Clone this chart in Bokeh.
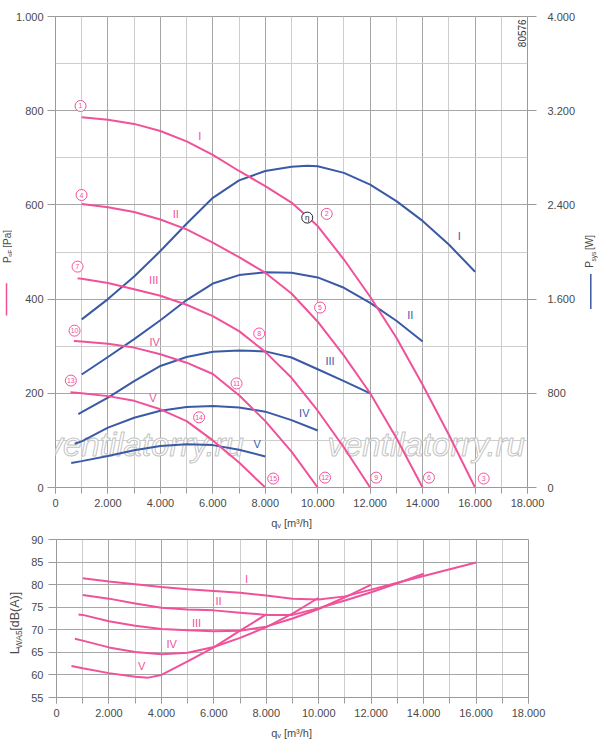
from math import pi

from bokeh.core.properties import value
from bokeh.embed import file_html
from bokeh.layouts import column, row
from bokeh.models import (CustomJSTickFormatter, FixedTicker, Label, LinearAxis,
                          Range1d, SingleIntervalTicker)
from bokeh.plotting import figure
from bokeh.resources import INLINE

PINK = "#f0529a"
BLUE = "#3a5aa6"
FONT = "Liberation Sans"
TXT = "#4a4a4a"

# ---- pressure curves P_sF [Pa] (pink)
q_p1 = [1000, 2000, 3000, 4000, 5000, 6000, 7000, 8000, 9000, 10000, 11000, 12000, 13000, 14000, 15000, 16000]
p_p1 = [786, 781, 772, 757, 735, 706, 672, 640, 605, 555, 484, 405, 318, 218, 112, 0]
q_p2 = [1000, 2000, 3000, 4000, 5000, 6000, 7000, 8000, 9000, 10000, 11000, 12000, 13000, 14000]
p_p2 = [602, 595, 585, 569, 548, 520, 489, 456, 412, 352, 280, 200, 105, 0]
q_p3 = [840, 1000, 2000, 3000, 4000, 5000, 6000, 7000, 8000, 9000, 10000, 11000, 12000]
p_p3 = [444, 443, 434, 421, 407, 388, 364, 332, 288, 233, 163, 85, 0]
q_p4 = [700, 1000, 2000, 3000, 4000, 5000, 6000, 7000, 8000, 9000, 10000]
p_p4 = [311, 310, 305, 297, 283, 265, 241, 196, 141, 76, 0]
q_p5 = [570, 1000, 2000, 3000, 4000, 5000, 6000, 7000, 8000]
p_p5 = [202, 200, 194, 184, 166, 141, 100, 53, 0]

# ---- power curves P_sys [W] (blue)
q_w1 = [1000, 2000, 3000, 4000, 5000, 6000, 7000, 8000, 9000, 9600, 10000, 11000, 12000, 13000, 14000, 15000, 16000]
w_w1 = [1428, 1600, 1792, 2008, 2240, 2460, 2608, 2688, 2724, 2732, 2728, 2672, 2572, 2432, 2264, 2064, 1832]
q_w2 = [1000, 2000, 3000, 4000, 5000, 6000, 7000, 8000, 9000, 10000, 11000, 12000, 13000, 14000]
w_w2 = [960, 1108, 1260, 1420, 1592, 1732, 1804, 1828, 1824, 1784, 1696, 1568, 1416, 1240]
q_w3 = [870, 1000, 2000, 3000, 4000, 5000, 6000, 7000, 8000, 9000, 10000, 11000, 12000]
w_w3 = [624, 640, 764, 904, 1032, 1108, 1152, 1164, 1156, 1104, 1004, 904, 800]
q_w4 = [730, 1000, 2000, 3000, 4000, 5000, 6000, 7000, 8000, 9000, 10000]
w_w4 = [372, 392, 508, 592, 652, 684, 692, 680, 644, 572, 484]
q_w5 = [600, 1000, 2000, 3000, 4000, 5000, 6000, 7000, 8000]
w_w5 = [208, 224, 268, 316, 352, 368, 360, 320, 264]

# ---- sound power L_WA5 [dB(A)] (pink)
q_l1 = [1000, 2000, 3000, 4000, 5000, 6000, 7000, 8000, 9000, 10000, 11000, 12000, 13000, 14000, 15000, 16000]
l_l1 = [81.4, 80.7, 80.1, 79.5, 79.0, 78.6, 78.2, 77.6, 76.9, 76.7, 77.4, 78.9, 80.4, 81.9, 83.4, 84.9]
q_l2 = [1000, 2000, 3000, 4000, 5000, 6000, 7000, 8000, 9000, 10000, 11000, 12000, 13000, 14000]
l_l2 = [77.7, 76.9, 75.8, 74.9, 74.5, 74.3, 73.8, 73.3, 73.3, 74.8, 76.5, 78.3, 80.3, 82.4]
q_l3 = [840, 1000, 2000, 3000, 4000, 5000, 6000, 7000, 8000, 9000, 10000, 11000, 12000]
l_l3 = [73.4, 73.3, 71.9, 70.9, 70.2, 69.9, 69.7, 69.8, 70.7, 72.5, 74.6, 77.2, 80.0]
q_l4 = [700, 1000, 2000, 3000, 4000, 5000, 6000, 7000, 8000, 9000, 10000]
l_l4 = [68.0, 67.6, 66.1, 65.1, 64.6, 64.9, 66.2, 68.2, 70.6, 73.6, 77.1]
q_l5 = [570, 1000, 2000, 3000, 3500, 4000, 5000, 6000, 7000, 8000]
l_l5 = [62.0, 61.5, 60.4, 59.6, 59.4, 60.0, 63.0, 66.1, 69.8, 73.4]

roman = ["I", "II", "III", "IV", "V"]

# circled operating point numbers on the pressure curves
pt_num = ["1", "4", "7", "10", "13", "2", "5", "8", "11", "14", "15", "12", "9", "6", "3"]
pt_q = [955, 994, 841, 727, 585, 10344, 10088, 7768, 6905, 5476, 8304, 10279, 12228, 14242, 16329]
pt_p = [810, 621, 469, 333, 227, 581, 382, 327, 221, 149, 19, 21, 21, 21, 19]

# label anchors
pl_q = [5500, 4585, 3745, 3783, 3718]
pl_p = [746, 581, 441, 309, 189]
wl_q = [15400, 13527, 10470, 9488, 7692]
wl_w = [2136, 1465, 1075, 636, 373]
ll_q = [7250, 6180, 5340, 4394, 3248]
ll_l = [81.3, 76.3, 71.5, 66.9, 61.9]

thousands = CustomJSTickFormatter(
    code=r"return Math.round(tick).toString().replace(/\B(?=(\d{3})+(?!\d))/g, '.');")


def style(p):
    p.outline_line_color = "#9a9a9a"
    p.grid.grid_line_color = "#a6a6a6"
    p.grid.minor_grid_line_color = "#cdcdcd"
    for ax in p.axis:
        ax.axis_line_color = None
        ax.axis_label_standoff = 0
        ax.major_tick_line_color = "#9a9a9a"
        ax.minor_tick_line_color = "#9a9a9a"
        ax.major_tick_in = 0
        ax.minor_tick_in = 0
        ax.major_label_text_font = FONT
        ax.major_label_text_font_size = "11px"
        ax.major_label_text_color = TXT
        ax.formatter = thousands


def lab(p, x, y, text, size, color=TXT, angle=0, align="left", baseline="middle"):
    p.add_layout(Label(x=x, y=y, text=text, angle=angle, text_align=align,
                       text_baseline=baseline, text_font=FONT, text_font_size=size,
                       text_color=color))


def strip(w, h):
    # small pixel-scaled figure that carries an axis title next to a chart
    s = figure(width=w, height=h, x_range=Range1d(0, w), y_range=Range1d(0, h), title=None,
               min_border=0, x_axis_type=None, y_axis_type=None,
               output_backend="svg", toolbar_location=None, tools="")
    s.outline_line_color = None
    return s


# ================= top chart
p = figure(frame_width=472, frame_height=471, min_border_left=40, min_border_right=48,
           min_border_top=16, min_border_bottom=25, x_range=Range1d(0, 18000),
           y_range=Range1d(0, 1000), output_backend="svg", toolbar_location=None, tools="")
p.extra_y_ranges = {"pw": Range1d(0, 4000)}
p.add_layout(LinearAxis(y_range_name="pw", ticker=FixedTicker(ticks=[0, 800, 1600, 2400, 3200, 4000])), "right")

p.xaxis.ticker = SingleIntervalTicker(interval=2000, num_minor_ticks=2)
p.xgrid.ticker = p.xaxis.ticker
p.yaxis[0].ticker = SingleIntervalTicker(interval=200, num_minor_ticks=2)
p.ygrid.ticker = p.yaxis[0].ticker
style(p)
p.xaxis.major_tick_out = 6
p.xaxis.minor_tick_out = 6
p.xaxis.major_label_standoff = 5
p.yaxis[0].major_tick_out = 8
p.yaxis[0].minor_tick_line_color = None
p.yaxis[0].major_label_standoff = 4
p.yaxis[1].major_tick_out = 9
p.yaxis[1].minor_tick_line_color = None
p.yaxis[1].major_label_standoff = 11

# watermark
for wx in (-343, 10373):
    p.add_layout(Label(x=wx, y=51, text="ventilatorry.ru", text_font=FONT, text_font_size="33px",
                       text_font_style="italic", text_color="white", text_outline_color="#c4c4c4",
                       level="underlay"))

for q, w in ((q_w1, w_w1), (q_w2, w_w2), (q_w3, w_w3), (q_w4, w_w4), (q_w5, w_w5)):
    p.line(q, w, y_range_name="pw", line_color=BLUE, line_width=2)
for q, pr in ((q_p1, p_p1), (q_p2, p_p2), (q_p3, p_p3), (q_p4, p_p4), (q_p5, p_p5)):
    p.line(q, pr, line_color=PINK, line_width=2)

p.text(pl_q, pl_p, text=roman, text_font=value(FONT), text_font_size="11px", text_color=PINK,
       text_align="center", text_baseline="middle")
p.text(wl_q, wl_w, text=roman, y_range_name="pw", text_font=value(FONT), text_font_size="11px",
       text_color=BLUE, text_align="center", text_baseline="middle")

p.scatter(pt_q, pt_p, size=11, marker="circle", fill_color="white", line_color=PINK, line_width=1)
p.text(pt_q, pt_p, text=pt_num, text_font=value(FONT), text_font_size="7px", text_color=PINK,
       text_align="center", text_baseline="middle")
p.scatter([9600], [573], size=11, marker="circle", fill_color="white", line_color="#222222", line_width=1)
p.text([9600], [573], text=["η"], text_font=value(FONT), text_font_size="8px", text_color="#222222",
       text_align="center", text_baseline="middle")

lab(p, 17960, 994, "80576", "10px", color="#333333", angle=pi / 2, align="right", baseline="bottom")

# axis titles of the top chart (strip units are pixels, y from the strip bottom)
tl = strip(12, 512)
lab(tl, 6.5, 244, "P", "10px", angle=pi / 2)
lab(tl, 9.5, 250.7, "sF", "6.5px", angle=pi / 2)
lab(tl, 6.5, 260.7, "[Pa]", "10px", angle=pi / 2)
tl.segment([6], [187], [6], [222], line_color=PINK, line_width=1.5)

tr = strip(20, 512)
lab(tr, 11, 239, "P", "10px", angle=pi / 2)
lab(tr, 15, 245.7, "sys", "6.5px", angle=pi / 2)
lab(tr, 11, 258.2, "[W]", "10px", angle=pi / 2)
tr.segment([12.3], [194], [12.3], [232], line_color=BLUE, line_width=1.5)

tx = strip(600, 20)
lab(tx, 270.7, 10, "q", "11px")
lab(tx, 276.8, 7.5, "v", "7.5px")
lab(tx, 283.4, 10, "[m³/h]", "11px")

# ================= bottom chart
b = figure(frame_width=472, frame_height=158, min_border_left=32, min_border_right=72,
           min_border_top=7, min_border_bottom=25, x_range=Range1d(0, 18000),
           y_range=Range1d(55, 90), output_backend="svg", toolbar_location=None, tools="")
b.xaxis.ticker = SingleIntervalTicker(interval=2000, num_minor_ticks=2)
b.xgrid.ticker = b.xaxis.ticker
b.yaxis.ticker = SingleIntervalTicker(interval=5, num_minor_ticks=0)
b.ygrid.ticker = b.yaxis.ticker
style(b)
b.xaxis.major_tick_out = 6
b.xaxis.minor_tick_out = 6
b.xaxis.major_label_standoff = 5
b.yaxis.major_tick_out = 8
b.yaxis.minor_tick_line_color = None
b.yaxis.major_label_standoff = 5

for q, lw in ((q_l1, l_l1), (q_l2, l_l2), (q_l3, l_l3), (q_l4, l_l4), (q_l5, l_l5)):
    b.line(q, lw, line_color=PINK, line_width=2)
b.text(ll_q, ll_l, text=roman, text_font=value(FONT), text_font_size="11px", text_color=PINK,
       text_align="center", text_baseline="middle")

bl = strip(24, 190)
lab(bl, 14.5, 52, "L", "12.5px", angle=pi / 2)
lab(bl, 18.5, 59, "WA5", "8.5px", angle=pi / 2)
lab(bl, 14.5, 80.4, "[dB(A)]", "12.5px", angle=pi / 2)

bx = strip(600, 22)
lab(bx, 270.7, 12, "q", "11px")
lab(bx, 276.8, 9.5, "v", "7.5px")
lab(bx, 283.4, 12, "[m³/h]", "11px")

layout = column(row(tl, p, tr, spacing=0), tx, row(bl, b, spacing=0), bx, spacing=0)
open("out.html", "w").write(file_html(layout, INLINE))
